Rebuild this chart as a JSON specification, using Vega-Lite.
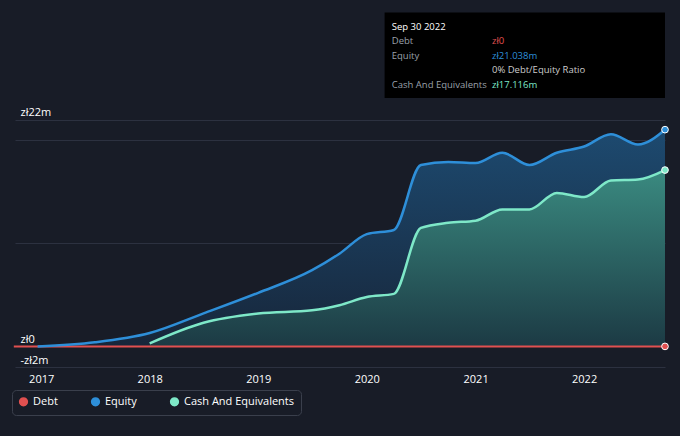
{
  "$schema": "https://vega.github.io/schema/vega-lite/v6.json",
  "width": 650,
  "height": 375,
  "autosize": "none",
  "padding": {"left": 15, "right": 15, "top": -8, "bottom": 69},
  "background": "#181c27",
  "config": {
    "view": {"stroke": null},
    "font": "Open Sans",
    "axis": {"labelColor": "#ffffff", "labelFontSize": 11, "labelFont": "Open Sans"}
  },
  "datasets": {
    "equity": [
      {"date": "2016-12-20", "value": 0, "series": "Equity"},
      {"date": "2017-07-01", "value": 0.4, "series": "Equity"},
      {"date": "2018-01-01", "value": 1.3, "series": "Equity"},
      {"date": "2018-07-01", "value": 3.2, "series": "Equity"},
      {"date": "2019-01-01", "value": 5.2, "series": "Equity"},
      {"date": "2019-07-01", "value": 7.4, "series": "Equity"},
      {"date": "2019-10-01", "value": 9.0, "series": "Equity"},
      {"date": "2020-01-01", "value": 10.9, "series": "Equity"},
      {"date": "2020-04-01", "value": 11.3, "series": "Equity"},
      {"date": "2020-07-01", "value": 17.6, "series": "Equity"},
      {"date": "2020-10-01", "value": 17.9, "series": "Equity"},
      {"date": "2021-01-01", "value": 17.8, "series": "Equity"},
      {"date": "2021-04-01", "value": 18.8, "series": "Equity"},
      {"date": "2021-07-01", "value": 17.6, "series": "Equity"},
      {"date": "2021-10-01", "value": 18.8, "series": "Equity"},
      {"date": "2022-01-01", "value": 19.4, "series": "Equity"},
      {"date": "2022-04-01", "value": 20.6, "series": "Equity"},
      {"date": "2022-07-01", "value": 19.6, "series": "Equity"},
      {"date": "2022-09-30", "value": 21.038, "series": "Equity"}
    ],
    "cash": [
      {"date": "2018-01-01", "value": 0.3, "series": "Cash And Equivalents"},
      {"date": "2018-07-01", "value": 2.3, "series": "Cash And Equivalents"},
      {"date": "2019-01-01", "value": 3.2, "series": "Cash And Equivalents"},
      {"date": "2019-07-01", "value": 3.5, "series": "Cash And Equivalents"},
      {"date": "2019-10-01", "value": 4.0, "series": "Cash And Equivalents"},
      {"date": "2020-01-01", "value": 4.8, "series": "Cash And Equivalents"},
      {"date": "2020-04-01", "value": 5.1, "series": "Cash And Equivalents"},
      {"date": "2020-07-01", "value": 11.5, "series": "Cash And Equivalents"},
      {"date": "2020-10-01", "value": 12.0, "series": "Cash And Equivalents"},
      {"date": "2021-01-01", "value": 12.2, "series": "Cash And Equivalents"},
      {"date": "2021-04-01", "value": 13.3, "series": "Cash And Equivalents"},
      {"date": "2021-07-01", "value": 13.3, "series": "Cash And Equivalents"},
      {"date": "2021-10-01", "value": 14.9, "series": "Cash And Equivalents"},
      {"date": "2022-01-01", "value": 14.5, "series": "Cash And Equivalents"},
      {"date": "2022-04-01", "value": 16.1, "series": "Cash And Equivalents"},
      {"date": "2022-07-01", "value": 16.2, "series": "Cash And Equivalents"},
      {"date": "2022-09-30", "value": 17.116, "series": "Cash And Equivalents"}
    ],
    "debt": [
      {"date": "2016-10-01", "value": 0, "series": "Debt"},
      {"date": "2022-09-30", "value": 0, "series": "Debt"}
    ],
    "ends": [
      {"date": "2022-09-30", "value": 21.038, "series": "Equity"},
      {"date": "2022-09-30", "value": 17.116, "series": "Cash And Equivalents"},
      {"date": "2022-09-30", "value": 0, "series": "Debt"}
    ],
    "tip": [
      {"date": "2020-03-25", "value": 31.0, "text": "Sep 30 2022", "color": "#ffffff", "weight": "bold"},
      {"date": "2020-03-25", "value": 29.6, "text": "Debt", "color": "#9aa0aa", "weight": "normal"},
      {"date": "2020-03-25", "value": 28.2, "text": "Equity", "color": "#9aa0aa", "weight": "normal"},
      {"date": "2020-03-25", "value": 25.4, "text": "Cash And Equivalents", "color": "#9aa0aa", "weight": "normal"},
      {"date": "2021-02-25", "value": 29.6, "text": "zł0", "color": "#e05050", "weight": "bold"},
      {"date": "2021-02-25", "value": 28.2, "text": "zł21.038m", "color": "#2e8fd9", "weight": "bold"},
      {"date": "2021-02-25", "value": 25.4, "text": "zł17.116m", "color": "#7ee8c8", "weight": "bold"},
      {"date": "2021-02-25", "value": 26.8, "text": "0% Debt/Equity Ratio", "color": "#cccccc", "weight": "normal"}
    ]
  },
  "encoding": {
    "x": {"field": "date", "type": "temporal",
      "scale": {"domain": ["2016-10-05", "2022-09-30"]},
      "axis": {"format": "%Y", "tickCount": "year", "grid": false, "domain": false, "ticks": false, "labelPadding": 6, "title": null}},
    "y": {"field": "value", "type": "quantitative",
      "scale": {"domain": [-2, 34.4], "nice": false},
      "axis": {"values": [-2, 0, 10, 20, 22], "labelExpr": "datum.value == 22 ? 'zł22m' : datum.value == 0 ? 'zł0' : datum.value == -2 ? '-zł2m' : ''",
        "grid": true, "gridColor": "#2c3140", "domain": false, "ticks": false, "labelAlign": "left", "labelBaseline": "bottom", "labelPadding": -5, "labelOffset": -2, "title": null}}
  },
  "layer": [
    {"data": {"name": "equity"},
      "mark": {"type": "area", "interpolate": "monotone",
        "color": {"gradient": "linear", "x1": 0, "y1": 0, "x2": 0, "y2": 1, "stops": [{"offset": 0, "color": "#1d4a70"}, {"offset": 1, "color": "#17263a"}]}}},
    {"data": {"name": "cash"},
      "mark": {"type": "area", "interpolate": "monotone",
        "color": {"gradient": "linear", "x1": 0, "y1": 0, "x2": 0, "y2": 1, "stops": [{"offset": 0, "color": "#3a8a80"}, {"offset": 1, "color": "#1c3a44"}]}}},
    {"data": {"name": "debt"}, "mark": {"type": "line", "strokeWidth": 2},
      "encoding": {"color": {"field": "series", "type": "nominal"}}},
    {"data": {"name": "equity"}, "mark": {"type": "line", "interpolate": "monotone", "strokeWidth": 2.5},
      "encoding": {"color": {"field": "series", "type": "nominal"}}},
    {"data": {"name": "cash"}, "mark": {"type": "line", "interpolate": "monotone", "strokeWidth": 2.5},
      "encoding": {"color": {"field": "series", "type": "nominal",
        "scale": {"domain": ["Debt", "Equity", "Cash And Equivalents"], "range": ["#e05050", "#2e8fd9", "#7ee8c8"]},
        "legend": {"orient": "none", "legendX": -3, "legendY": 398, "direction": "horizontal", "title": null, "symbolType": "circle", "symbolSize": 60, "symbolOpacity": 1, "labelColor": "#ffffff", "labelFontSize": 11, "columnPadding": 30, "padding": 6, "strokeColor": "#3a3f4c", "cornerRadius": 4}}}},
    {"data": {"name": "ends"}, "mark": {"type": "point", "filled": true, "size": 45, "stroke": "#ffffff", "strokeWidth": 1, "opacity": 1},
      "encoding": {"color": {"field": "series", "type": "nominal"}}},
    {"data": {"values": [{"date": "2020-03-01", "date2": "2022-09-30", "value": 32.4, "value2": 24.1}]},
      "mark": {"type": "rect", "color": "#000000", "clip": false},
      "encoding": {"x2": {"field": "date2"}, "y2": {"field": "value2"}}},
    {"data": {"name": "tip"},
      "mark": {"type": "text", "align": "left", "fontSize": 9.5, "clip": false},
      "encoding": {"text": {"field": "text"}, "color": {"field": "color", "type": "nominal", "scale": null},
        "fontWeight": {"field": "weight", "type": "nominal", "scale": null}}}
  ]
}
